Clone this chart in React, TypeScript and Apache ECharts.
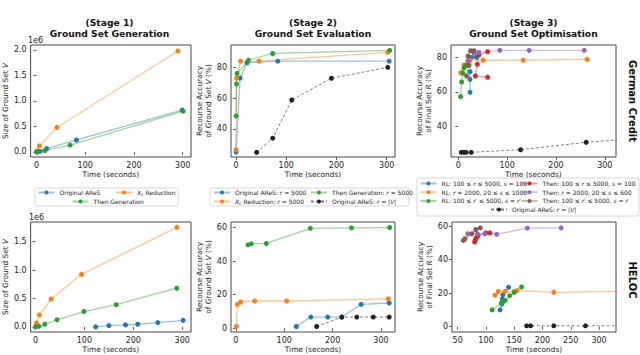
import React, { useEffect, useRef } from 'react';
import * as echarts from 'echarts';

const FONT = 'DejaVu Sans';
const BLUE = '#1f77b4';
const ORANGE = '#ff7f0e';
const GREEN = '#2ca02c';
const RED = '#d62728';
const PURPLE = '#9467bd';
const BROWN = '#8c564b';
const BLACK = '#222222';

// ---------- German Credit, Stage 1 (time s, size of ground set) ----------
const gc1Original = [[1, 0], [7, 10000], [21, 65000], [82, 235000], [299, 820000]];
const gc1Reduction = [[1, 20000], [6, 120000], [42, 480000], [290, 1980000]];
const gc1Then = [[0, 0], [3, 5000], [17, 25000], [69, 135000], [301, 800000]];

// ---------- German Credit, Stage 2 (time s, accuracy %) ----------
const gc2Original = [[0, 25], [8, 73], [22, 83], [83, 84], [305, 84]];
const gc2Reduction = [[0, 26.5], [1, 73], [9, 84], [46, 84], [302, 89.7]];
const gc2Then = [[0, 48.4], [1, 69.2], [2, 76], [25, 84.7], [73, 89], [306, 91]];
const gc2OriginalV = [[41, 24.8], [73, 34], [111, 58.8], [190, 72.9], [302, 80]];

// ---------- German Credit, Stage 3 ----------
const gc3RLrs = [[24, 59.8], [24, 67.3], [24, 71.7], [27, 80], [37, 80]];
const gc3RLs = [[5, 71.1], [11.5, 75.6], [19.6, 77.5], [23.7, 78.3], [51, 78.3], [133, 78.3], [264, 78.8]];
const gc3RLr2 = [[4.7, 57.3], [6.8, 65.8], [9.4, 70.8], [11.5, 73.8], [15, 75.2], [21.7, 75.4]];
const gc3Thenrs = [[60, 68.5], [35, 69.2], [39, 76], [42, 81.3], [60, 83.2]];
const gc3Thens = [[20, 78], [32, 82.3], [42, 82.9], [85, 84], [145, 84], [258, 84]];
const gc3Thenr2 = [[17, 69.2], [19.7, 75.4], [19.7, 80.7], [25, 83.8], [32, 83.8]];
const gc3OriginalV = [[6, 25.2], [11.5, 25.2], [16, 25.2], [26.5, 25.2], [127.5, 26.7], [262, 31], [400, 34]];

// ---------- HELOC, Stage 1 ----------
const h1Original = [[123, 0], [150, 23000], [184, 35000], [209, 46000], [250, 75000], [302, 115000]];
const h1Reduction = [[0, 5000], [2, 70000], [8, 210000], [32, 490000], [94, 925000], [289, 1750000]];
const h1Then = [[0, 0], [7, 10000], [19, 46000], [44, 125000], [99, 270000], [165, 390000], [289, 680000]];

// ---------- HELOC, Stage 2 ----------
const h2Original = [[125, 1], [155, 6.6], [190, 6.6], [219, 6.6], [259, 14.2], [317, 15]];
const h2Reduction = [[1, 1], [3, 14.2], [10, 15.6], [39, 16.2], [105, 16.2], [315, 17.5]];
const h2Then = [[25, 49.7], [32, 50.3], [63, 50.5], [154, 59.5], [239, 59.8], [318, 60]];
const h2OriginalV = [[167, 1], [219, 6.6], [250, 6.6], [284, 6.6], [317, 6.6]];

// ---------- HELOC, Stage 3 ----------
const h3RLrs = [[125, 10], [128, 13.5], [129, 16.5], [130, 19], [140, 23.5]];
const h3RLs = [[116, 18.8], [122, 21], [134, 21], [150, 21], [155, 21.5], [220, 20.5], [400, 21.3]];
const h3RLr2 = [[111, 10], [127, 14], [130, 14.8], [134, 15.7], [142, 18.5], [150, 20.4], [163, 23.7]];
const h3Thenrs = [[80, 50.5], [81, 51.5], [82, 52.5], [84, 53.5], [86, 54.5], [100, 56], [107, 56]];
const h3Thens = [[68, 55.5], [85, 55.5], [98, 55.5], [119, 55.2], [173, 58.8], [233, 59]];
const h3Thenr2 = [[60, 51.5], [63, 52.5], [75, 55.5], [82, 58], [90, 59]];
const h3OriginalV = [[172, 0.5], [179, 0.5], [220, 0.5], [276, 0.5], [400, 0.5]];

// ---------- tick values ----------
const xTicks = [0, 100, 200, 300];
const xTicksHeloc3 = [50, 100, 150, 200, 250, 300];
const sizeTicksGC = [0, 500000, 1000000, 1500000, 2000000];
const sizeTicksH = [0, 500000, 1000000, 1500000];
const accTicksGC = [40, 60, 80];
const accTicksH = [0, 20, 40, 60];

// ---------- names ----------
const N_ORIG = 'Original AReS';
const N_RED = 'Xc Reduction';
const N_THEN = 'Then Generation';
const N_ORIG5 = 'Original AReS: r = 5000';
const N_RED5 = 'Xc Reduction: r = 5000';
const N_THEN5 = 'Then Generation: r = 5000';
const N_ORIGV = 'Original AReS: r = |V|';
const N_RL1 = 'RL: 100 ≤ r ≤ 5000, s = 100';
const N_RL2 = 'RL: r = 2000, 20 ≤ s ≤ 1000';
const N_RL3 = "RL: 100 ≤ r' ≤ 5000, s = r'";
const N_TH1 = 'Then: 100 ≤ r ≤ 5000, s = 100';
const N_TH2 = 'Then: r = 2000, 20 ≤ s ≤ 600';
const N_TH3 = "Then: 100 ≤ r' ≤ 5000, s = r'";

const display: Record<string, string> = {
  [N_ORIG]: 'Original AReS',
  [N_RED]: '{i|X}{s|c} Reduction',
  [N_THEN]: 'Then Generation',
  [N_ORIG5]: 'Original AReS: {i|r} = 5000',
  [N_RED5]: '{i|X}{s|c} Reduction: {i|r} = 5000',
  [N_THEN5]: 'Then Generation: {i|r} = 5000',
  [N_ORIGV]: 'Original AReS: {i|r} = |{i|V}|',
  [N_RL1]: 'RL: 100 ≤ {i|r} ≤ 5000, {i|s} = 100',
  [N_RL2]: 'RL: {i|r} = 2000, 20 ≤ {i|s} ≤ 1000',
  [N_RL3]: 'RL: 100 ≤ {i|r′} ≤ 5000, {i|s} = {i|r′}',
  [N_TH1]: 'Then: 100 ≤ {i|r} ≤ 5000, {i|s} = 100',
  [N_TH2]: 'Then: {i|r} = 2000, 20 ≤ {i|s} ≤ 600',
  [N_TH3]: 'Then: 100 ≤ {i|r′} ≤ 5000, {i|s} = {i|r′}',
};

function ser(name: string, data: number[][], color: string, gi: number, dashed = false) {
  return {
    type: 'line',
    name,
    data,
    xAxisIndex: gi,
    yAxisIndex: gi,
    symbol: 'circle',
    symbolSize: 5,
    showSymbol: true,
    clip: true,
    silent: true,
    itemStyle: { color },
    lineStyle: dashed
      ? { color: '#555', width: 1, opacity: 0.75, type: [3, 2] }
      : { color, width: 1.3, opacity: 0.45 },
    emphasis: { disabled: true },
  };
}

const grids = [
  { left: 28, top: 45, width: 163, height: 112 },
  { left: 231, top: 45, width: 164, height: 112 },
  { left: 451, top: 45, width: 165, height: 112 },
  { left: 29, top: 222, width: 162, height: 112 },
  { left: 231, top: 222, width: 164, height: 112 },
  { left: 452, top: 222, width: 164, height: 113 },
];

const tickStyle = { fontSize: 8, fontFamily: FONT, color: '#222' };
const nameStyle = {
  fontSize: 7.4,
  fontFamily: FONT,
  color: '#222',
  lineHeight: 9,
  rich: { i: { fontStyle: 'italic', fontSize: 7.4, fontFamily: FONT, color: '#222' } },
};

function xa(gi: number, min: number, max: number, ticks: number[]) {
  return {
    type: 'value',
    gridIndex: gi,
    min,
    max,
    axisLine: { show: false },
    axisTick: { show: true, length: 3, lineStyle: { color: '#333', width: 0.8 }, customValues: ticks },
    axisLabel: { ...tickStyle, margin: 4, customValues: ticks },
    splitLine: { show: false },
    name: 'Time (seconds)',
    nameLocation: 'middle',
    nameGap: 13,
    nameTextStyle: nameStyle,
  };
}

function ya(gi: number, min: number, max: number, ticks: number[], name: string, gap: number, millions = false) {
  return {
    type: 'value',
    gridIndex: gi,
    min,
    max,
    axisLine: { show: false },
    axisTick: { show: true, length: 3, lineStyle: { color: '#333', width: 0.8 }, customValues: ticks },
    axisLabel: {
      ...tickStyle,
      margin: 4,
      customValues: ticks,
      formatter: millions ? (v: number) => (v / 1e6).toFixed(1) : (v: number) => String(v),
    },
    splitLine: { show: false },
    name,
    nameLocation: 'middle',
    nameGap: gap,
    nameTextStyle: nameStyle,
  };
}

const legendPos: { name: string; left: number; top: number }[] = [
  { name: N_ORIG, left: 37.5, top: 189.5 },
  { name: N_RED, left: 115, top: 189.5 },
  { name: N_THEN, left: 71.5, top: 198.5 },
  { name: N_ORIG5, left: 213, top: 189.5 },
  { name: N_THEN5, left: 310, top: 189.5 },
  { name: N_RED5, left: 213, top: 198.5 },
  { name: N_ORIGV, left: 310, top: 198.5 },
  { name: N_RL1, left: 419.5, top: 180.5 },
  { name: N_TH1, left: 520.5, top: 180.5 },
  { name: N_RL2, left: 419.5, top: 189.2 },
  { name: N_TH2, left: 520.5, top: 189.2 },
  { name: N_RL3, left: 419.5, top: 197.9 },
  { name: N_TH3, left: 520.5, top: 197.9 },
  { name: N_ORIGV, left: 490, top: 206.6 },
];

function buildOption() {
  const series = [
    ser(N_ORIG, gc1Original, BLUE, 0),
    ser(N_RED, gc1Reduction, ORANGE, 0),
    ser(N_THEN, gc1Then, GREEN, 0),
    ser(N_ORIG5, gc2Original, BLUE, 1),
    ser(N_RED5, gc2Reduction, ORANGE, 1),
    ser(N_THEN5, gc2Then, GREEN, 1),
    ser(N_ORIGV, gc2OriginalV, BLACK, 1, true),
    ser(N_RL1, gc3RLrs, BLUE, 2),
    ser(N_RL2, gc3RLs, ORANGE, 2),
    ser(N_RL3, gc3RLr2, GREEN, 2),
    ser(N_TH1, gc3Thenrs, RED, 2),
    ser(N_TH2, gc3Thens, PURPLE, 2),
    ser(N_TH3, gc3Thenr2, BROWN, 2),
    ser(N_ORIGV, gc3OriginalV, BLACK, 2, true),
    ser(N_ORIG, h1Original, BLUE, 3),
    ser(N_RED, h1Reduction, ORANGE, 3),
    ser(N_THEN, h1Then, GREEN, 3),
    ser(N_ORIG5, h2Original, BLUE, 4),
    ser(N_RED5, h2Reduction, ORANGE, 4),
    ser(N_THEN5, h2Then, GREEN, 4),
    ser(N_ORIGV, h2OriginalV, BLACK, 4, true),
    ser(N_RL1, h3RLrs, BLUE, 5),
    ser(N_RL2, h3RLs, ORANGE, 5),
    ser(N_RL3, h3RLr2, GREEN, 5),
    ser(N_TH1, h3Thenrs, RED, 5),
    ser(N_TH2, h3Thens, PURPLE, 5),
    ser(N_TH3, h3Thenr2, BROWN, 5),
    ser(N_ORIGV, h3OriginalV, BLACK, 5, true),
  ];

  const legends = legendPos.map((p) => ({
    data: [p.name],
    left: p.left,
    top: p.top,
    padding: 0,
    itemWidth: 16,
    itemHeight: 5,
    itemGap: 0,
    selectedMode: false,
    formatter: (n: string) => display[n] || n,
    textStyle: {
      fontSize: 6,
      fontFamily: FONT,
      color: '#222',
      rich: {
        i: { fontStyle: 'italic', fontSize: 6, fontFamily: FONT, color: '#222' },
        s: { fontSize: 4.5, fontFamily: FONT, color: '#222', padding: [3, 0, 0, 0] },
      },
    },
  }));

  const titleText = (x: number, a: string, b: string) => ({
    text: a + '\n' + b,
    left: x,
    top: 17.5,
    textAlign: 'center',
    padding: 0,
    textStyle: { fontSize: 9.2, fontWeight: 'bold', fontFamily: FONT, color: '#111', lineHeight: 10.5 },
  });

  return {
    animation: false,
    backgroundColor: '#ffffff',
    title: [
      titleText(109.5, '(Stage 1)', 'Ground Set Generation'),
      titleText(313, '(Stage 2)', 'Ground Set Evaluation'),
      titleText(533.5, '(Stage 3)', 'Ground Set Optimisation'),
    ],
    grid: grids.map((g) => ({ ...g, show: true, borderColor: '#444', borderWidth: 1, backgroundColor: 'transparent' })),
    xAxis: [
      xa(0, -12, 317, xTicks),
      xa(1, -10, 316.5, xTicks),
      xa(2, -15, 323, xTicks),
      xa(3, -10, 318, xTicks),
      xa(4, -10, 329, xTicks),
      xa(5, 40, 330, xTicksHeloc3),
    ],
    yAxis: [
      ya(0, -99000, 2098000, sizeTicksGC, 'Size of Ground Set {i|V}', 19, true),
      ya(1, 21.8, 94.5, accTicksGC, 'Recourse Accuracy\nof Ground Set {i|V} (%)', 14),
      ya(2, 22.5, 87.1, accTicksGC, 'Recourse Accuracy\nof Final Set {i|R} (%)', 15),
      ya(3, -90000, 1845000, sizeTicksH, 'Size of Ground Set {i|V}', 19, true),
      ya(4, -2.3, 63.3, accTicksH, 'Recourse Accuracy\nof Ground Set {i|V} (%)', 14),
      ya(5, -3.2, 62.5, accTicksH, 'Recourse Accuracy\nof Final Set {i|R} (%)', 15),
    ],
    legend: legends,
    graphic: [
      { type: 'rect', z: 0, shape: { x: 35, y: 188, width: 143, height: 18, r: 2 }, style: { fill: '#fff', stroke: '#cccccc', lineWidth: 0.8 } },
      { type: 'rect', z: 0, shape: { x: 210, y: 188, width: 199, height: 18, r: 2 }, style: { fill: '#fff', stroke: '#cccccc', lineWidth: 0.8 } },
      { type: 'rect', z: 0, shape: { x: 417, y: 178, width: 222, height: 38, r: 2 }, style: { fill: '#fff', stroke: '#cccccc', lineWidth: 0.8 } },
      { type: 'text', x: 28, y: 44, style: { text: '1e6', fontSize: 8, fontFamily: FONT, fill: '#222', textAlign: 'left', textVerticalAlign: 'bottom' } },
      { type: 'text', x: 29, y: 221, style: { text: '1e6', fontSize: 8, fontFamily: FONT, fill: '#222', textAlign: 'left', textVerticalAlign: 'bottom' } },
      { type: 'text', x: 632, y: 101, rotation: -Math.PI / 2, style: { text: 'German Credit', fontSize: 10, fontWeight: 'bold', fontFamily: FONT, fill: '#111', textAlign: 'center', textVerticalAlign: 'middle' } },
      { type: 'text', x: 632, y: 280, rotation: -Math.PI / 2, style: { text: 'HELOC', fontSize: 10, fontWeight: 'bold', fontFamily: FONT, fill: '#111', textAlign: 'center', textVerticalAlign: 'middle' } },
    ],
    series,
  };
}

export default function App() {
  const ref = useRef<HTMLDivElement>(null);
  useEffect(() => {
    document.body.style.margin = '0';
    const chart = echarts.init(ref.current as HTMLDivElement, null, { renderer: 'svg' });
    chart.setOption(buildOption() as any);
    return () => chart.dispose();
  }, []);
  return <div ref={ref} style={{ width: 640, height: 355 }} />;
}
